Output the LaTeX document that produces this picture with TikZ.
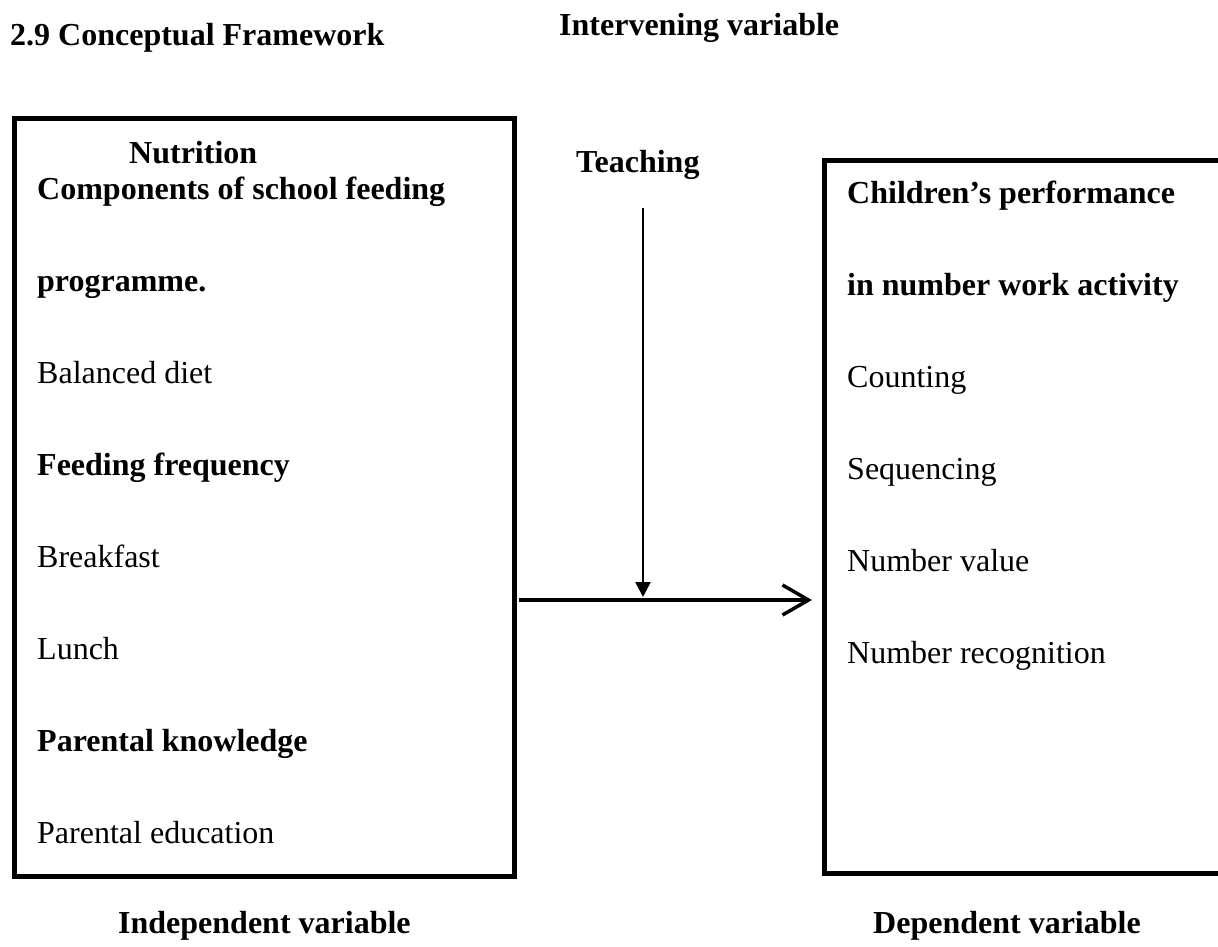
\documentclass[tikz,border=0pt]{standalone}
\usepackage{fontspec}
\setmainfont{Liberation Serif}
\usetikzlibrary{arrows.meta}

\tikzset{
  txt/.style={anchor=base west, inner sep=0pt, font=\fontsize{32}{37}\selectfont},
  hd/.style={txt, font=\fontsize{32}{37}\selectfont\bfseries},
}

\begin{document}
\begin{tikzpicture}[x=1pt,y=-1pt]

\useasboundingbox (0,0) rectangle (1218,946);

\coordinate (L1) at (14,118);
\coordinate (L2) at (514,876);
\coordinate (R1) at (824,160);
\coordinate (R2) at (1240,873);

\draw[line width=5pt] (L1) rectangle (L2);
\draw[line width=5pt] (R1) rectangle (R2);

\node[hd] (title) at (10,45) {2.9 Conceptual Framework};
\node[hd] (interv) at (559,35) {Intervening variable};

\node[hd] (nutr) at (129,163) {Nutrition};
\node[hd] (comp) at (37,199) {Components of school feeding};
\node[hd] (prog) at (37,291) {programme.};
\node[txt] (diet) at (37,383) {Balanced diet};
\node[hd] (freq) at (37,475) {Feeding frequency};
\node[txt] (brk) at (37,567) {Breakfast};
\node[txt] (lun) at (37,659) {Lunch};
\node[hd] (know) at (37,751) {Parental knowledge};
\node[txt] (edu) at (37,843) {Parental education};

\node[hd] (teach) at (576,172) {Teaching};

\node[hd] (perf) at (847,203) {Children’s performance};
\node[hd] (numw) at (847,295) {in number work activity};
\node[txt] (cnt) at (847,387) {Counting};
\node[txt] (seq) at (847,479) {Sequencing};
\node[txt] (nval) at (847,571) {Number value};
\node[txt] (nrec) at (847,663) {Number recognition};

\node[hd] (indep) at (118,933) {Independent variable};
\node[hd] (dep) at (873,933) {Dependent variable};

\coordinate (vtop) at (643,208);
\coordinate (vend) at (643,597);
\coordinate (hstart) at (519,600);
\coordinate (hend) at (812,600);

\draw[line width=2.5pt, -{Triangle[length=15pt,width=15pt]}] (vtop) -- (vend);
\draw[line width=3.5pt, -{Straight Barb[length=26pt,width=30pt,line width=3.5pt]}] (hstart) -- (hend);

\end{tikzpicture}
\end{document}
